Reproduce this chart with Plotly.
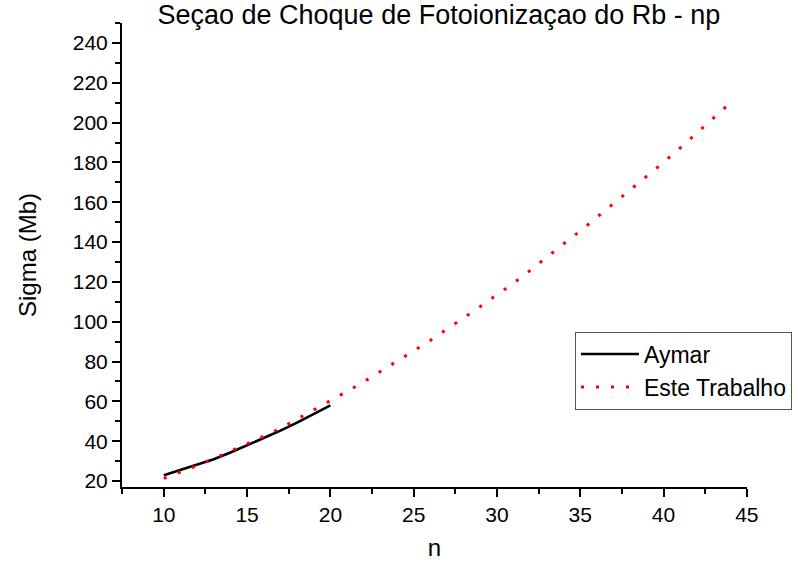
import plotly.graph_objects as go

# Photoionization cross section of Rb np states versus principal quantum number
n_aymar = [10, 11, 12, 13, 14, 15, 16, 17, 18, 19, 20]
sigma_aymar = [22.9, 25.5, 28.1, 30.9, 34.3, 37.9, 41.4, 45.3, 49.3, 53.6, 58.0]

n_trabalho = list(range(10, 45))
sigma_trabalho = [
    21.3, 24.5, 27.8, 31.3, 34.8, 38.7, 42.5, 46.5, 51.1, 55.6,
    60.4, 65.0, 69.8, 75.0, 80.3, 85.4, 90.6, 96.3, 101.8, 107.6,
    113.6, 119.4, 125.8, 132.6, 139.1, 145.6, 152.4, 159.2, 166.1, 173.0,
    180.0, 187.3, 194.7, 202.3, 209.8,
]

FONT = "Liberation Sans, Arial, sans-serif"

fig = go.Figure()
fig.add_trace(go.Scatter(
    x=n_aymar, y=sigma_aymar, mode="lines", name="Aymar",
    line=dict(color="black", width=2.6),
))
fig.add_trace(go.Scatter(
    x=n_trabalho, y=sigma_trabalho, mode="lines", name="Este Trabalho",
    line=dict(color="#ff0000", width=3, dash="3px,12px"),
))

axis_common = dict(
    showline=True, linecolor="black", linewidth=2,
    ticks="outside", ticklen=8, tickwidth=2, tickcolor="black",
    showgrid=False, zeroline=False, mirror=False,
    tickfont=dict(family=FONT, size=21, color="black"),
)

fig.update_xaxes(
    range=[7.49, 45.01], tick0=0, dtick=5,
    minor=dict(ticks="outside", dtick=2.5, tick0=0, ticklen=5, tickwidth=2, tickcolor="black"),
    title=dict(text="n", font=dict(family=FONT, size=24, color="black"), standoff=14),
    **axis_common,
)
fig.update_yaxes(
    range=[17, 250.01], tick0=0, dtick=20,
    minor=dict(ticks="outside", dtick=10, tick0=0, ticklen=5, tickwidth=2, tickcolor="black"),
    title=dict(text="Sigma (Mb)", font=dict(family=FONT, size=24, color="black"), standoff=29),
    **axis_common,
)

fig.update_layout(
    width=798, height=567,
    margin=dict(l=122, r=51, t=23, b=80, autoexpand=False),
    paper_bgcolor="white", plot_bgcolor="white",
    title=dict(
        text="Seçao de Choque de Fotoionizaçao do Rb - np",
        font=dict(family=FONT, size=27, color="black"),
        x=0.55, xanchor="center", xref="container",
        y=0.975, yanchor="middle", yref="container",
    ),
    legend=dict(
        x=0.7248, y=0.335, xanchor="left", yanchor="top",
        bgcolor="white", bordercolor="#555555", borderwidth=1,
        font=dict(family=FONT, size=23, color="black"),
        itemwidth=58, tracegroupgap=0,
    ),
    showlegend=True,
)

fig.write_html("out.html")
